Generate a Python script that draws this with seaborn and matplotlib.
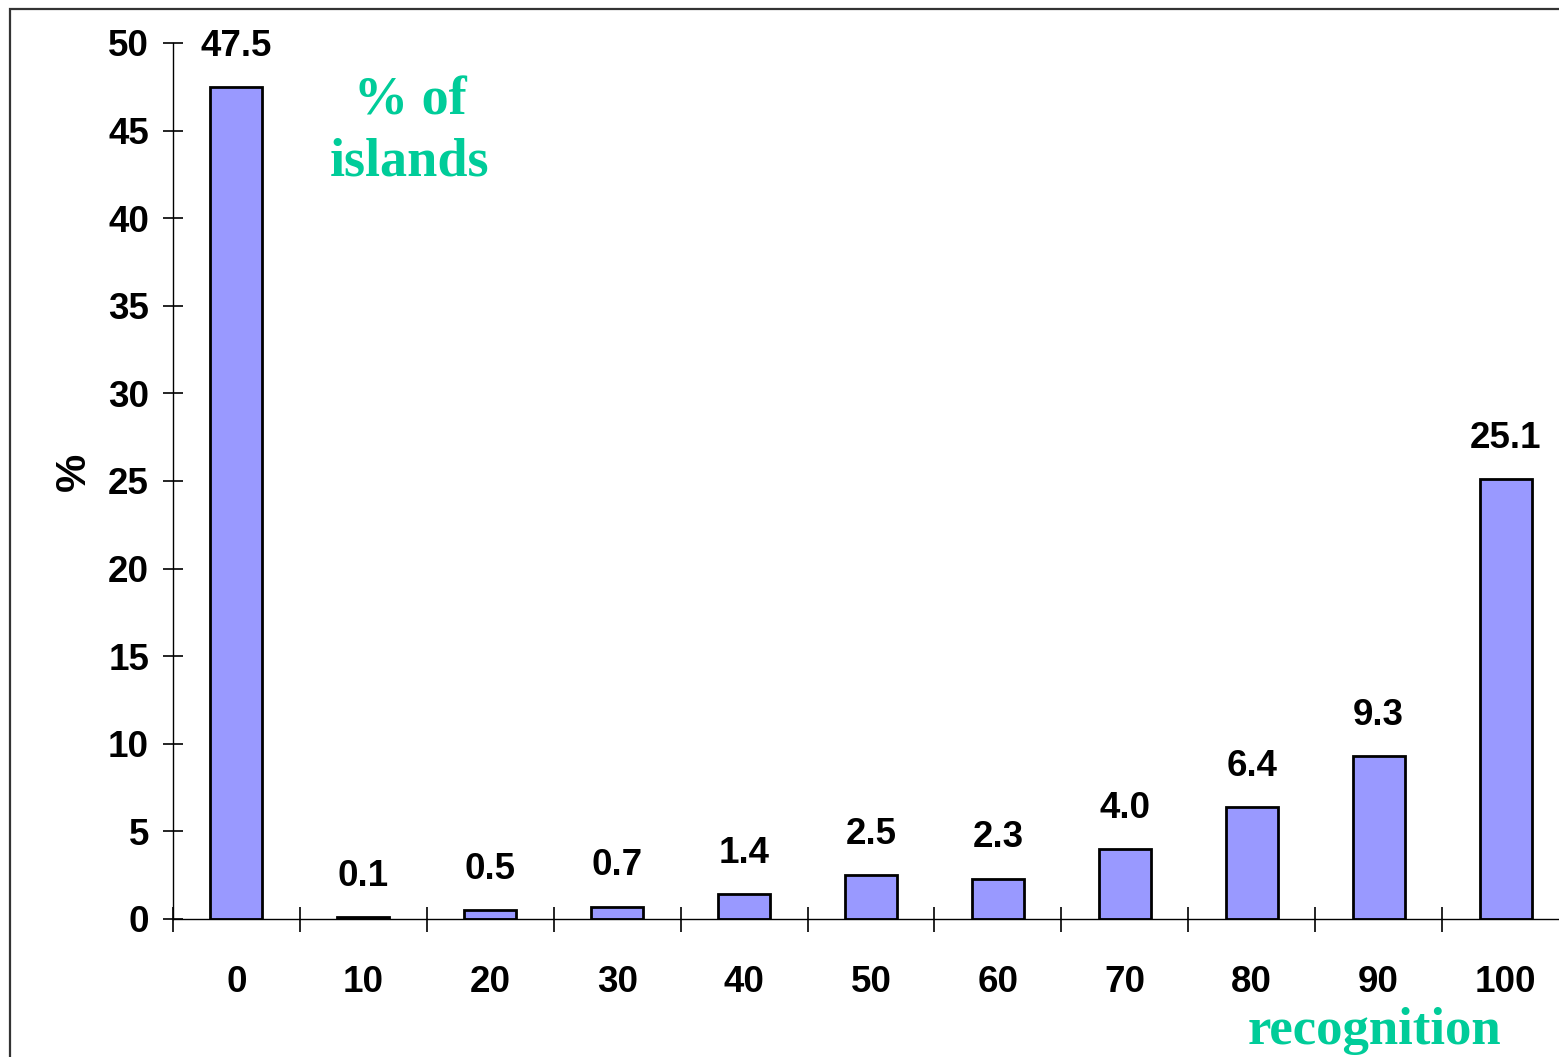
import numpy as np
import pandas as pd
import matplotlib
matplotlib.use("Agg")
import matplotlib.pyplot as plt
from matplotlib.patches import Rectangle
from matplotlib.ticker import FixedLocator
import seaborn as sns

# Share of islands by recognition level (%)
recognition_levels = ["0", "10", "20", "30", "40", "50", "60", "70", "80", "90", "100"]
island_share = [47.5, 0.1, 0.5, 0.7, 1.4, 2.5, 2.3, 4.0, 6.4, 9.3, 25.1]
y_ticks = [0, 5, 10, 15, 20, 25, 30, 35, 40, 45, 50]

BAR_COLOR = "#9999FF"
NOTE_COLOR = "#00CC99"

sns.set_theme(style="white")
plt.rcParams["font.family"] = ["Liberation Sans", "DejaVu Sans"]
plt.rcParams["font.weight"] = "bold"

df = pd.DataFrame({"recognition": recognition_levels, "share": island_share})

W, H = 1559, 1057
fig = plt.figure(figsize=(W / 100, H / 100), dpi=100)
ax = fig.add_axes([173 / W, 1 - 919 / H, 1396 / W, 876 / H])

sns.barplot(data=df, x="recognition", y="share", order=recognition_levels,
            color=BAR_COLOR, saturation=1, width=0.41,
            edgecolor="black", linewidth=2, ax=ax)

ax.set_xlim(-0.5, len(recognition_levels) - 0.5)
ax.set_ylim(0, 50)
ax.set_yticks(y_ticks)
ax.set_yticklabels([str(t) for t in y_ticks])

# category labels sit between the boundary ticks
ax.xaxis.set_minor_locator(FixedLocator(np.arange(-0.5, len(recognition_levels), 1.0)))
ax.tick_params(axis="x", which="major", length=0, pad=33, labelsize=26.5)
ax.tick_params(axis="x", which="minor", direction="inout", length=18, width=1.2,
               color="black", bottom=True)
ax.tick_params(axis="y", which="major", direction="inout", length=14.5, width=1.2,
               color="black", left=True, pad=10, labelsize=26.5)
for lab in ax.get_xticklabels() + ax.get_yticklabels():
    lab.set_fontweight("bold")
    lab.set_color("black")

sns.despine(ax=ax, top=True, right=True)
for side in ("left", "bottom"):
    ax.spines[side].set_color("black")
    ax.spines[side].set_linewidth(1.0)

ax.set_xlabel("")
ax.set_ylabel("%", fontsize=31, fontweight="bold", color="black")
ax.yaxis.set_label_coords(-0.057, 0.51)

# value labels above each bar
for i, v in enumerate(island_share):
    ax.annotate(f"{v:.1f}", xy=(i, v), xytext=(0, 22.5), textcoords="offset points",
                ha="center", va="baseline", fontsize=26.5, fontweight="bold",
                color="black", annotation_clip=False)

# green annotations in a serif face
fig.text(410 / W, 1 - 175 / H, "% of\nislands", ha="center", va="baseline",
         multialignment="center", fontsize=39, fontweight="bold",
         family=["Liberation Serif", "DejaVu Serif"], color=NOTE_COLOR,
         linespacing=1.27)
fig.text(1374 / W, 2 / H, "recognition", ha="center", va="bottom",
         fontsize=38, fontweight="bold",
         family=["Liberation Serif", "DejaVu Serif"], color=NOTE_COLOR)

# outer frame line along the top and left edges
fig.patches.append(Rectangle((10 / W, -0.1), 1.2, 1 - 9 / H + 0.1,
                             transform=fig.transFigure, fill=False,
                             edgecolor="#333333", linewidth=1.6, clip_on=False))

fig.savefig("out.png", dpi=100)
